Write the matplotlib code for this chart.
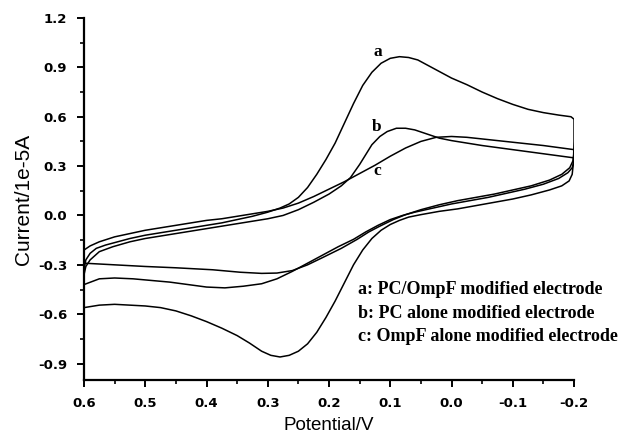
import matplotlib
matplotlib.use("Agg")
import matplotlib.pyplot as plt
from matplotlib.ticker import MultipleLocator

# curve a: PC/OmpF modified electrode (forward sweep then reverse sweep)
a_pot = [0.600, 0.597, 0.590, 0.580, 0.565, 0.550, 0.525, 0.500, 0.475, 0.450,
         0.425, 0.400, 0.375, 0.350, 0.325, 0.300, 0.280, 0.265, 0.250, 0.235,
         0.220, 0.205, 0.190, 0.175, 0.160, 0.145, 0.130, 0.115, 0.100, 0.085,
         0.070, 0.055, 0.040, 0.020, 0.000, -0.025, -0.050, -0.075, -0.100, -0.125,
         -0.150, -0.175, -0.195, -0.200,
         -0.200, -0.199, -0.197, -0.192, -0.180, -0.160, -0.130, -0.100, -0.070, -0.040,
         -0.010, 0.020, 0.050, 0.070, 0.085, 0.100, 0.115, 0.130, 0.145, 0.160,
         0.175, 0.190, 0.205, 0.220, 0.235, 0.250, 0.265, 0.280, 0.295, 0.310,
         0.330, 0.350, 0.375, 0.400, 0.425, 0.450, 0.475, 0.500, 0.525, 0.550,
         0.575, 0.600]
a_cur = [-0.33, -0.27, -0.23, -0.20, -0.18, -0.165, -0.14, -0.12, -0.105, -0.09,
         -0.075, -0.06, -0.045, -0.025, -0.005, 0.02, 0.045, 0.07, 0.11, 0.17,
         0.25, 0.34, 0.44, 0.56, 0.68, 0.79, 0.87, 0.925, 0.955, 0.965,
         0.96, 0.945, 0.915, 0.875, 0.835, 0.795, 0.75, 0.71, 0.675, 0.645,
         0.625, 0.61, 0.60, 0.585,
         0.45, 0.32, 0.25, 0.21, 0.18, 0.155, 0.125, 0.10, 0.08, 0.06,
         0.04, 0.025, 0.005, -0.01, -0.03, -0.055, -0.09, -0.14, -0.21, -0.30,
         -0.41, -0.52, -0.62, -0.71, -0.78, -0.825, -0.85, -0.86, -0.85, -0.825,
         -0.775, -0.73, -0.685, -0.645, -0.61, -0.58, -0.56, -0.55, -0.545, -0.54,
         -0.545, -0.56]

# curve b: PC alone modified electrode
b_pot = [0.600, 0.597, 0.590, 0.575, 0.553, 0.525, 0.500, 0.475, 0.450, 0.425,
         0.400, 0.375, 0.350, 0.325, 0.300, 0.275, 0.250, 0.225, 0.200, 0.180,
         0.165, 0.150, 0.140, 0.130, 0.117, 0.105, 0.090, 0.075, 0.060, 0.040,
         0.020, 0.000, -0.050, -0.100, -0.150, -0.200,
         -0.200, -0.197, -0.190, -0.175, -0.150, -0.120, -0.090, -0.060, -0.030, 0.000,
         0.030, 0.060, 0.080, 0.100, 0.120, 0.140, 0.160, 0.185, 0.210, 0.235,
         0.260, 0.285, 0.310, 0.340, 0.370, 0.400, 0.430, 0.460, 0.490, 0.520,
         0.550, 0.575, 0.600]
b_cur = [-0.36, -0.31, -0.27, -0.22, -0.19, -0.16, -0.14, -0.125, -0.11, -0.095,
         -0.08, -0.065, -0.05, -0.035, -0.02, 0.00, 0.035, 0.08, 0.13, 0.18,
         0.23, 0.31, 0.37, 0.43, 0.48, 0.51, 0.53, 0.53, 0.52, 0.495,
         0.47, 0.455, 0.425, 0.40, 0.375, 0.35,
         0.33, 0.29, 0.26, 0.225, 0.19, 0.16, 0.135, 0.11, 0.09, 0.07,
         0.045, 0.02, 0.0, -0.025, -0.06, -0.10, -0.145, -0.19, -0.24, -0.29,
         -0.34, -0.385, -0.415, -0.43, -0.44, -0.435, -0.42, -0.405, -0.395, -0.385,
         -0.38, -0.385, -0.42]

# curve c: OmpF alone modified electrode
c_pot = [0.600, 0.590, 0.575, 0.550, 0.525, 0.500, 0.475, 0.450, 0.425, 0.400,
         0.375, 0.350, 0.325, 0.300, 0.275, 0.250, 0.225, 0.200, 0.175, 0.150,
         0.125, 0.100, 0.075, 0.050, 0.025, 0.000, -0.025, -0.050, -0.100, -0.150,
         -0.200,
         -0.200, -0.198, -0.193, -0.180, -0.160, -0.130, -0.100, -0.070, -0.040, -0.010,
         0.020, 0.050, 0.075, 0.095, 0.117, 0.135, 0.154, 0.180, 0.210, 0.235,
         0.260, 0.285, 0.310, 0.345, 0.390, 0.450, 0.500, 0.550, 0.600]
c_cur = [-0.21, -0.185, -0.16, -0.13, -0.11, -0.09, -0.075, -0.06, -0.045, -0.03,
         -0.02, -0.005, 0.01, 0.025, 0.045, 0.075, 0.115, 0.16, 0.205, 0.255,
         0.305, 0.36, 0.41, 0.45, 0.475, 0.48, 0.475, 0.465, 0.445, 0.425,
         0.40,
         0.38, 0.33, 0.29, 0.25, 0.215, 0.18, 0.155, 0.13, 0.11, 0.09,
         0.065, 0.035, 0.005, -0.025, -0.065, -0.10, -0.145, -0.20, -0.255, -0.30,
         -0.335, -0.35, -0.352, -0.345, -0.33, -0.318, -0.31, -0.30, -0.29]

curve_tags = ["a", "b", "c"]
tag_pos = [(0.12, 0.995), (0.122, 0.54), (0.122, 0.27)]
legend_lines = ["a: PC/OmpF modified electrode",
                "b: PC alone modified electrode",
                "c: OmpF alone modified electrode"]

plt.rcParams["axes.unicode_minus"] = False

fig = plt.figure(figsize=(6.34, 4.37), dpi=100)
ax = fig.add_axes([0.1325, 0.1304, 0.7729, 0.8284])

for pot, cur in [(a_pot, a_cur), (b_pot, b_cur), (c_pot, c_cur)]:
    ax.plot(pot, cur, color="black", lw=1.1)

ax.set_xlim(0.6, -0.2)
ax.set_ylim(-1.0, 1.2)

ax.spines["top"].set_visible(False)
ax.spines["right"].set_visible(False)
ax.spines["left"].set_linewidth(1.6)
ax.spines["bottom"].set_linewidth(1.6)

ax.xaxis.set_major_locator(MultipleLocator(0.1))
ax.xaxis.set_minor_locator(MultipleLocator(0.05))
ax.yaxis.set_major_locator(MultipleLocator(0.3))
ax.yaxis.set_minor_locator(MultipleLocator(0.15))
ax.set_yticks([-0.9, -0.6, -0.3, 0.0, 0.3, 0.6, 0.9, 1.2])
ax.tick_params(which="major", length=5, width=1.4, direction="out")
ax.tick_params(which="minor", length=3, width=1.2, direction="out")
ax.tick_params(axis="x", pad=7)
ax.tick_params(axis="y", pad=7)
for lab in ax.get_xticklabels() + ax.get_yticklabels():
    lab.set_fontweight("bold")
    lab.set_fontsize(9.5)
ax.xaxis.set_major_formatter(plt.FuncFormatter(lambda v, p: f"{v:.1f}".replace("-0.0", "0.0")))
ax.yaxis.set_major_formatter(plt.FuncFormatter(lambda v, p: f"{v:.1f}".replace("-0.0", "0.0")))

ax.set_xlabel("Potential/V", fontsize=13.5, family="Liberation Sans", labelpad=5)
ax.set_ylabel("Current/1e-5A", fontsize=15, family="Liberation Sans", labelpad=4)

for tag, (tx, ty) in zip(curve_tags, tag_pos):
    ax.text(tx, ty, tag, fontsize=12.5, fontweight="bold", family="Liberation Serif",
            ha="center", va="center")

for i, line in enumerate(legend_lines):
    ax.text(0.153, -0.45 - 0.143 * i, line, fontsize=13, fontweight="bold",
            family="Liberation Serif", ha="left", va="center")

fig.savefig("out.png", dpi=100)
